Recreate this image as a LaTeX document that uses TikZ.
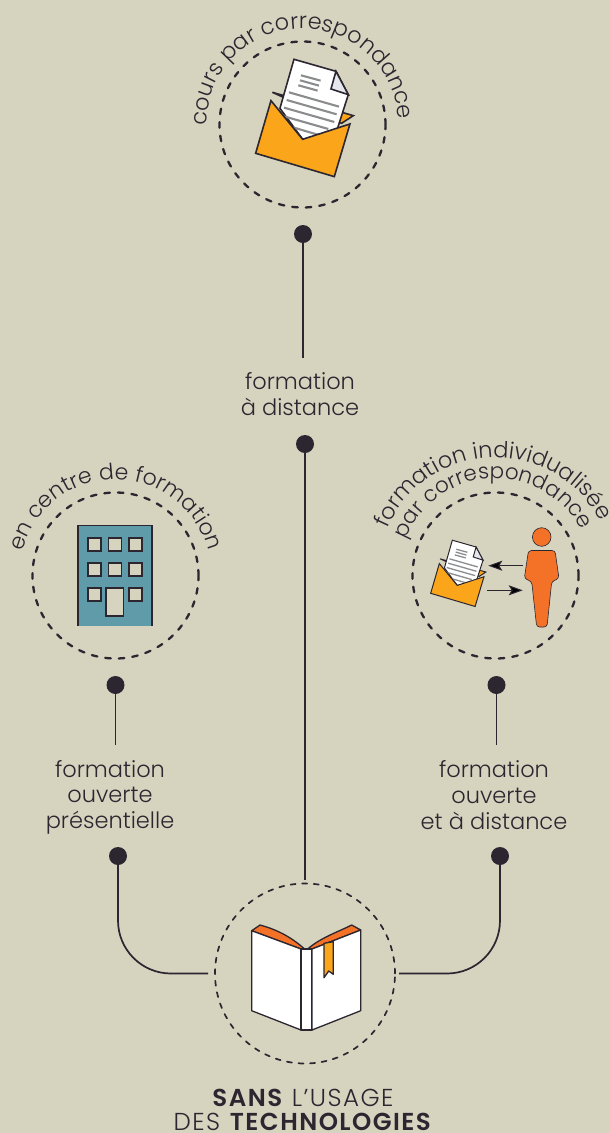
\documentclass[tikz,border=0pt]{standalone}
\usepackage{fontspec}
\setmainfont{Poppins}[UprightFont=* Light,BoldFont=* SemiBold]
\usepackage{tikz}
\usetikzlibrary{decorations.text,arrows.meta}

\definecolor{paperbg}{HTML}{D6D3BF}
\definecolor{inkdark}{HTML}{2B2630}
\definecolor{mailorange}{HTML}{FBA51A}
\definecolor{deeporange}{HTML}{F47227}
\definecolor{buildteal}{HTML}{5F9BA8}
\definecolor{linegray}{HTML}{8A8C8E}
\definecolor{foldgray}{HTML}{E5E7EC}

\tikzset{
    ring/.style={circle, draw=inkdark, line width=2.3pt, line cap=round, dash pattern=on 5.6pt off 8pt, inner sep=0pt, outer sep=0pt, minimum size=166pt},
    dot/.style={circle, fill=inkdark, inner sep=0pt, minimum size=18pt},
    wire/.style={draw=inkdark, line width=1.7pt},
    label/.style={align=center, text=inkdark, font=\fontsize{22.5}{25.6}\selectfont, inner sep=0pt},
    iconline/.style={draw=inkdark, line join=miter},
    mailarrow/.style={draw=inkdark, line width=1pt, -{Stealth[length=14pt,width=10pt,inset=3pt]}}
}

% text on an arc: centre, radius, middle angle, size, text
\newcommand{\ringtext}[5]{
    \path[decorate, decoration={text along path, text align=center, text color=inkdark,
        text={|\fontsize{#4}{#4}\selectfont|#5}}]
        ([shift={(-#3-110:#2)}]#1) arc[start angle=-#3-110, end angle=-#3+110, radius=#2];
}

% envelope: x, y, scale, line width (local units are a third of a pixel)
\newcommand{\mailicon}[4]{
    \begin{scope}[shift={(#1,#2)}, scale=#3/3, line width=#4]
        \filldraw[iconline, fill=mailorange] (-93,-123) -- (150,-53) -- (115,-30) -- cycle;
        \filldraw[iconline, fill=white] (-28,-222) -- (98,-186) -- (135,-116) -- (98,0) -- (-2,18) -- (-70,-75) -- cycle;
        \filldraw[iconline, fill=foldgray] (98,-186) -- (83,-133) -- (135,-116) -- cycle;
        \draw[linegray, line width=#4*1.3]
            (-7,-174) -- (52,-158) (-10,-159) -- (47,-143) (-15,-144) -- (43,-128)
            (-43,-123) -- (107,-80) (-50,-100) -- (100,-57) (-58,-77) -- (93,-34)
            (-65,-53) -- (75,-13) (-72,-30) -- (70,12);
        \filldraw[iconline, fill=mailorange] (-97,-98) -- (-2,18) -- (140,-28) -- (93,130) -- (-143,60) -- cycle;
    \end{scope}
}

\begin{document}
\begin{tikzpicture}[x=1pt, y=-1pt]
    \path[use as bounding box, fill=paperbg] (0,0) rectangle (610,1133);

    % rings
    \node[ring] (ringTop) at (302.5,124.5) {};
    \node[ring] (ringLeft) at (115.5,575.5) {};
    \node[ring] (ringRight) at (495.5,575.5) {};
    \node[ring, minimum size=180pt, line width=1.7pt, dash pattern=on 5pt off 6.6pt] (ringBottom) at (305,973.5) {};

    % dots
    \node[dot] (dotTop) at (303,234) {};
    \node[dot] (dotMiddle) at (305,444) {};
    \node[dot] (dotLeftUp) at (115.5,685) {};
    \node[dot] (dotRightUp) at (496.5,685) {};
    \node[dot] (dotLeftDown) at (118,856) {};
    \node[dot] (dotRightDown) at (500,856) {};

    % labels
    \node[label] (lblDistance) at (300,394) {formation\\à distance};
    \node[label] (lblPresent) at (110,797) {formation\\ouverte\\présentielle};
    \node[label] (lblOpen) at (494,795) {formation\\ouverte\\et à distance};
    \node[label, font=\fontsize{24.5}{24}\selectfont\addfontfeature{LetterSpace=6}] (lblCaption) at (303,1110) {\textbf{SANS} L’USAGE\\DES \textbf{TECHNOLOGIES}};

    % connectors
    \coordinate (endDistance) at (303,358);
    \coordinate (endPresent) at (115.5,745);
    \coordinate (endOpen) at (496.5,745);
    \draw[wire] (dotTop.center) -- (endDistance);
    \draw[wire] (dotLeftUp.center) -- (endPresent);
    \draw[wire] (dotRightUp.center) -- (endOpen);
    \draw[wire, shorten >=4pt] (dotMiddle.center) -- (ringBottom.north);
    \draw[wire, rounded corners=53pt, shorten >=7pt] (dotLeftDown.center) |- (ringBottom.west);
    \draw[wire, rounded corners=53pt, shorten >=4pt] (dotRightDown.center) |- (ringBottom.east);

    % curved labels
    \ringtext{ringTop.center}{96}{92}{22.4}{cours par correspondance}
    \ringtext{ringLeft.center}{96}{90}{22}{en centre de formation}
    \ringtext{ringRight.center}{118}{92}{22.4}{formation individualisée}
    \ringtext{ringRight.center}{97}{93}{21.5}{par correspondance}

    % envelopes
    \mailicon{303.3}{133.3}{1}{1.6pt}
    \mailicon{457.6}{582}{0.565}{1pt}

    % building
    \fill[buildteal] (77.7,525) rectangle (151.7,625.7);
    \draw[inkdark, line width=1.6pt] (77.7,625.7) -- (77.7,525.5) -- (151.7,525.5) -- (151.7,625.7);
    \foreach \wx in {87.7,108.3,129} {
        \foreach \wy in {537.7,562.7} {
            \filldraw[draw=inkdark, fill=paperbg, line width=1.6pt] (\wx,\wy) rectangle +(13,13);
        }
    }
    \foreach \wx in {87.7,129} {
        \filldraw[draw=inkdark, fill=paperbg, line width=1.6pt] (\wx,587.7) rectangle +(13,13);
    }
    \filldraw[draw=inkdark, fill=paperbg, line width=1.6pt] (106,587.7) rectangle (123.3,616);

    % person and arrows
    \coordinate (personOut) at (523.3,565.7);
    \coordinate (mailIn) at (488.3,565.7);
    \coordinate (mailOut) at (487.3,590.3);
    \coordinate (personIn) at (522.7,590.3);
    \draw[mailarrow] (personOut) -- (mailIn);
    \draw[mailarrow] (mailOut) -- (personIn);
    \filldraw[draw=inkdark, fill=deeporange, line width=0.6pt] (541.7,537) circle (9.3);
    \filldraw[draw=inkdark, fill=deeporange, line width=0.6pt, rounded corners=3pt]
        (528.5,550.5) -- (555,550.5) -- (559,578.5) -- (551.7,581.5) -- (547,627) -- (536.7,627) -- (531.7,581.5) -- (524.3,578.5) -- cycle;

    % book
    \begin{scope}[draw=inkdark, line width=1.3pt, line join=round]
        \filldraw[fill=deeporange] (251.7,930.7) -- (260,925) .. controls (275,929) and (290,936) .. (304,948.5) -- (301,949) -- cycle;
        \filldraw[fill=deeporange] (308.3,948.5) .. controls (320,938) and (340,931) .. (351.7,925) -- (360.7,930) -- (312,949) -- cycle;
        \filldraw[fill=white] (251.7,930.7) -- (301,949) -- (301,1030) -- (251.7,1010.7) -- cycle;
        \filldraw[fill=white] (301,949) -- (312,949) -- (312,1030) -- (301,1030) -- cycle;
        \filldraw[fill=white] (312,949) -- (360.7,930) -- (360.7,1010.7) -- (312,1030) -- cycle;
        \filldraw[fill=mailorange] (324,943.3) -- (333.3,941.7) -- (333.3,974.3) -- (328.7,971) -- (324,977.7) -- cycle;
    \end{scope}
\end{tikzpicture}
\end{document}
